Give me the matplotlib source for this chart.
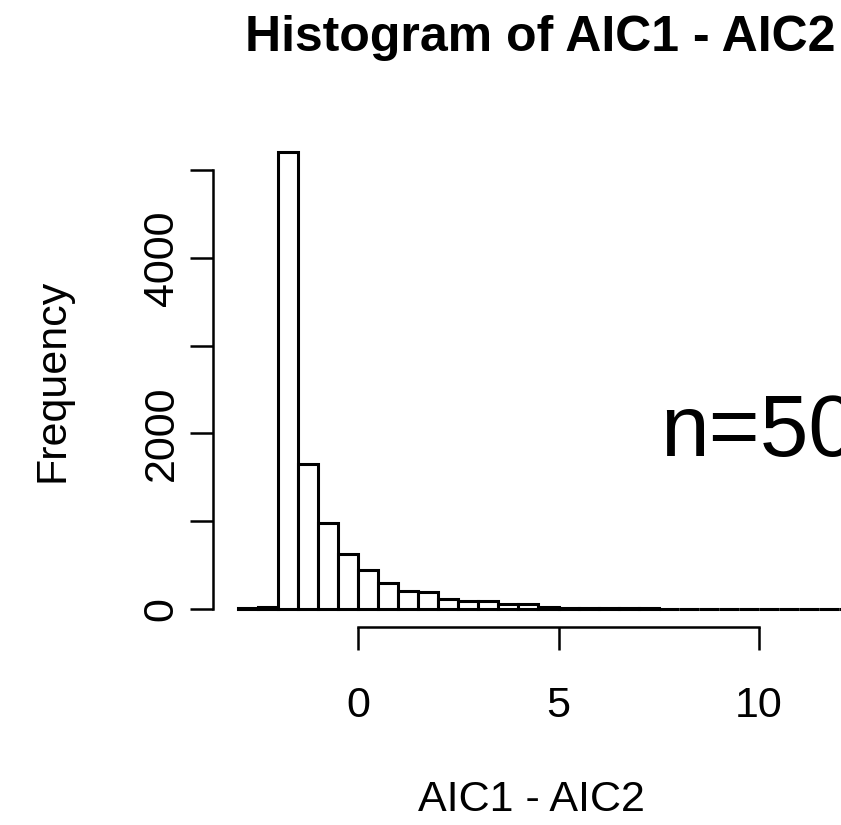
import matplotlib
matplotlib.use('Agg')
import matplotlib.pyplot as plt
import numpy as np

plt.rcParams['font.family'] = ['Liberation Sans', 'DejaVu Sans']

# bin edges (width 0.5) and counts
breaks = np.arange(-3.0, 12.51, 0.5)
counts = [5, 22, 5208, 1652, 983, 623, 444, 293, 205, 187, 114, 91, 86, 53, 50,
          16, 14, 12, 10, 8, 7, 3, 2, 2, 1, 1, 1, 0, 1, 0, 1]
xticks = [0, 5, 10]
yticks = [0, 1000, 2000, 3000, 4000, 5000]
ylabels = ['0', '', '2000', '', '4000', '']

fig = plt.figure(figsize=(8.41, 8.25), dpi=100)
ax = fig.add_axes([213/841, (825-627)/825, (884-213)/841, (627-134)/825])

ax.bar(breaks[:-1], counts, width=np.diff(breaks), align='edge',
       facecolor='white', edgecolor='black', linewidth=2.2)

ax.set_xlim(-3.62, 13.12)
ax.set_ylim(-208, 5416)

for s in ['top', 'right']:
    ax.spines[s].set_visible(False)
ax.spines['bottom'].set_bounds(0, 10)
ax.spines['left'].set_bounds(0, 5000)
for s in ['bottom', 'left']:
    ax.spines[s].set_linewidth(1.8)

ax.set_xticks(xticks)
ax.set_yticks(yticks)
ax.set_yticklabels(ylabels, rotation=90, va='center')
ax.tick_params(axis='both', length=16.5, width=1.8, labelsize=31)
ax.tick_params(axis='x', pad=26)
ax.tick_params(axis='y', pad=6)

ax.text(10.0, 2000, 'n=50', fontsize=63, ha='center', va='center')

fig.text(540/841, 1 - 38/825, 'Histogram of AIC1 - AIC2', fontsize=36,
         fontweight='bold', ha='center', va='center')
fig.text(531/841, 1 - 800/825, 'AIC1 - AIC2', fontsize=31, ha='center', va='center')
fig.text(52/841, 1 - 380/825, 'Frequency', fontsize=31, ha='center', va='center',
         rotation=90)

fig.savefig('out.png', dpi=100)
